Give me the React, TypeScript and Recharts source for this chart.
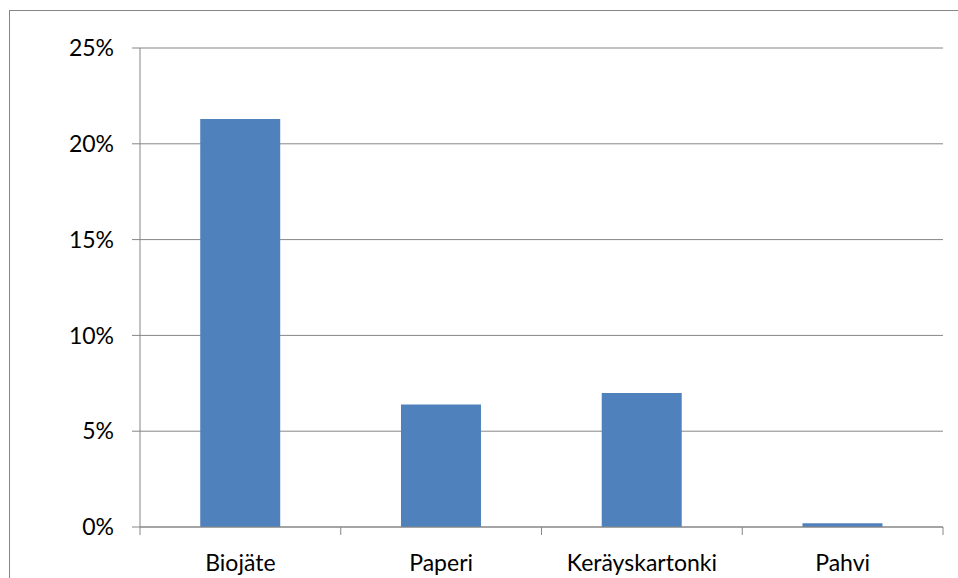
import React from 'react';
import { BarChart, Bar, XAxis, YAxis, CartesianGrid } from 'recharts';

const categories = ['Biojäte', 'Paperi', 'Keräyskartonki', 'Pahvi'];
const shares = [21.3, 6.4, 7.0, 0.2];
const yTicks = [0, 5, 10, 15, 20, 25];

const data = categories.map((name, i) => ({ name, share: shares[i] }));

const WIDTH = 958;
const HEIGHT = 578;
const MARGIN = { top: 48, right: 15, bottom: 0, left: 0 };
const Y_AXIS_WIDTH = 140;
const X_AXIS_HEIGHT = 51;
const LINE = '#868686';
const FONT = 'Lato, "Open Sans", sans-serif';
const FONT_SIZE = 23;

// Excel-style category axis: tick marks sit between categories, labels centred
const CategoryTick = (props: any) => {
  const { x, y, payload, index } = props;
  const band = (WIDTH - MARGIN.left - MARGIN.right - Y_AXIS_WIDTH) / categories.length;
  const left = x - band / 2;
  const right = x + band / 2;
  return (
    <g>
      <line x1={left} x2={left} y1={y - 8} y2={y} stroke={LINE} strokeWidth={1} />
      {index === categories.length - 1 && (
        <line x1={right} x2={right} y1={y - 8} y2={y} stroke={LINE} strokeWidth={1} />
      )}
      <text
        x={x}
        y={y + 36}
        textAnchor="middle"
        fill="#000"
        fontSize={FONT_SIZE}
        fontFamily={FONT}
      >
        {payload.value}
      </text>
    </g>
  );
};

const App: React.FC = () => {
  return (
    <div
      style={{
        position: 'absolute',
        left: 0,
        top: 0,
        width: WIDTH,
        height: HEIGHT,
        overflow: 'hidden',
        background: '#fff'
      }}
    >
      <div
        style={{
          position: 'absolute',
          left: 9,
          top: 10,
          width: 1200,
          height: 1200,
          border: `1px solid ${LINE}`
        }}
      />
      <div style={{ position: 'absolute', left: 0, top: 0 }}>
        <BarChart width={WIDTH} height={HEIGHT} data={data} margin={MARGIN} barCategoryGap="30%">
          <CartesianGrid vertical={false} stroke={LINE} strokeWidth={1} />
          <XAxis
            dataKey="name"
            height={X_AXIS_HEIGHT}
            axisLine={{ stroke: LINE, strokeWidth: 1 }}
            tickLine={false}
            tick={<CategoryTick />}
            interval={0}
            tickSize={8}
            tickMargin={0}
          />
          <YAxis
            width={Y_AXIS_WIDTH}
            domain={[0, 25]}
            ticks={yTicks}
            tickFormatter={(v: number) => `${v}%`}
            axisLine={{ stroke: LINE, strokeWidth: 1 }}
            tickLine={{ stroke: LINE, strokeWidth: 1 }}
            tickSize={8}
            tickMargin={18}
            tick={{ fill: '#000', fontSize: FONT_SIZE, fontFamily: FONT }}
          />
          <Bar dataKey="share" fill="#4F81BD" isAnimationActive={false} />
        </BarChart>
      </div>
    </div>
  );
};

export default App;
